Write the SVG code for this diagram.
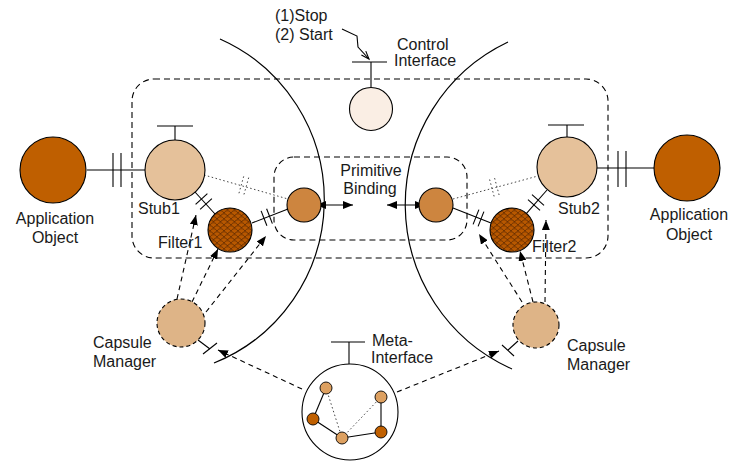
<svg xmlns="http://www.w3.org/2000/svg" width="732" height="466" viewBox="0 0 732 466">
<style>
text{font-family:"Liberation Sans",Arial,sans-serif;font-size:16px;fill:#1a1a1a}
.ln{stroke:#000;stroke-width:1.1;fill:none}
.arc{stroke:#000;stroke-width:1.2;fill:none}
.box{stroke:#000;stroke-width:1.1;fill:none;stroke-dasharray:6,4}
.da{stroke:#000;stroke-width:1.1;fill:none;stroke-dasharray:5,4;marker-end:url(#ah)}
.dot{stroke:#444;stroke-width:1;fill:none;stroke-dasharray:1.5,2.5}
.ba{stroke:#000;stroke-width:1.1;fill:none;marker-start:url(#ah2);marker-end:url(#ah)}
.nd{stroke:#000;stroke-width:1.1}
.cm{stroke:#000;stroke-width:1.1;stroke-dasharray:4,3;fill:#DEB487}
.sm{stroke:#000;stroke-width:0.9}
</style>
<defs>
<marker id="ah" markerWidth="10" markerHeight="8" refX="10" refY="4" orient="auto" markerUnits="userSpaceOnUse"><path d="M0,0 L10,4 L0,8 z" fill="#000"/></marker>
<marker id="ah2" markerWidth="10" markerHeight="8" refX="10" refY="4" orient="auto-start-reverse" markerUnits="userSpaceOnUse"><path d="M0,0 L10,4 L0,8 z" fill="#000"/></marker>
<pattern id="scales" width="7" height="6" patternUnits="userSpaceOnUse">
<rect width="7" height="6" fill="#b85800"/>
<path d="M0,3 C1.5,0 5.5,0 7,3 M-3.5,6 C-2,3 2,3 3.5,6 M3.5,6 C5,3 9,3 10.5,6 M-3.5,0 C-2,-3 2,-3 3.5,0 M3.5,0 C5,-3 9,-3 10.5,0" stroke="#4a1e00" stroke-width="0.7" fill="none"/>
</pattern>
</defs>
<rect width="732" height="466" fill="#fff"/>
<g id="background">
<path class="arc" d="M220,39 A176,176 0 0 1 214,363"/>
<path class="arc" d="M508,42 A180,180 0 0 0 512,369"/>
<rect class="box" x="132" y="79" width="476" height="179" rx="22"/>
<rect class="box" x="274" y="157" width="193" height="83" rx="20"/>
</g>
<g id="connectors">
<line class="ln" x1="87" y1="170" x2="145" y2="170"/>
<line class="ln" x1="113" y1="153" x2="113" y2="187"/>
<line class="ln" x1="121" y1="153" x2="121" y2="187"/>
<line class="ln" x1="597" y1="168" x2="654" y2="168"/>
<line class="ln" x1="618" y1="151" x2="618" y2="187"/>
<line class="ln" x1="626" y1="151" x2="626" y2="187"/>
<line class="ln" x1="195" y1="192" x2="215" y2="214"/>
<line class="ln" x1="195.6" y1="204.4" x2="207.4" y2="193.6"/>
<line class="ln" x1="200.1" y1="209.4" x2="211.9" y2="198.6"/>
<line class="ln" x1="252" y1="223" x2="288" y2="209"/>
<line class="ln" x1="261.1" y1="210.9" x2="266.9" y2="225.7"/>
<line class="ln" x1="266.6" y1="208.8" x2="272.4" y2="223.6"/>
<line class="ln" x1="547" y1="190" x2="526.5" y2="213.4"/>
<line class="ln" x1="532" y1="194.7" x2="544" y2="205.3"/>
<line class="ln" x1="528" y1="199.7" x2="540" y2="210.3"/>
<line class="ln" x1="453" y1="208" x2="491" y2="223"/>
<line class="ln" x1="478.9" y1="209.6" x2="473.1" y2="224.4"/>
<line class="ln" x1="483.9" y1="211.6" x2="478.1" y2="226.4"/>
<line class="dot" x1="204" y1="175" x2="288" y2="199"/>
<line class="dot" x1="243.7" y1="176.4" x2="238.3" y2="195.6"/>
<line class="dot" x1="248.7" y1="177.6" x2="243.3" y2="196.8"/>
<line class="dot" x1="453" y1="199" x2="538" y2="176"/>
<line class="dot" x1="489.6" y1="179.5" x2="494.4" y2="197.5"/>
<line class="dot" x1="494.6" y1="178.1" x2="499.4" y2="196.1"/>
<line class="ba" x1="316" y1="205" x2="353" y2="205"/>
<line class="ba" x1="387" y1="205" x2="425" y2="205"/>
<line class="ln" x1="175" y1="140" x2="175" y2="126"/>
<line class="ln" x1="157" y1="126" x2="193" y2="126"/>
<line class="ln" x1="567" y1="137" x2="567" y2="125"/>
<line class="ln" x1="548" y1="125" x2="584" y2="125"/>
<line class="ln" x1="371" y1="87" x2="371" y2="62"/>
<line class="ln" x1="352" y1="62" x2="387" y2="62"/>
<path class="ln" d="M342,29 L357,36 L358,47 L369,59" stroke-width="0.9"/>
<path class="ln" d="M361.4,55.1 L369,59 L365.8,51.1" stroke-width="0.9"/>
<line class="ln" x1="349" y1="364" x2="349" y2="342"/>
<line class="ln" x1="331" y1="342" x2="365" y2="342"/>
<line class="ln" x1="198" y1="340" x2="210" y2="349"/>
<line class="ln" x1="203" y1="354" x2="217" y2="343"/>
<line class="ln" x1="518" y1="341" x2="508" y2="350"/>
<line class="ln" x1="502" y1="345" x2="514" y2="356"/>
<path class="da" d="M177,299 L196,215"/>
<path class="da" d="M192,302 L218,249"/>
<path class="da" d="M206,312 L266,236"/>
<path class="da" d="M522,302 L479,234"/>
<path class="da" d="M533,302 L520,251"/>
<path class="da" d="M545,302 L546,220"/>
<path class="da" d="M302,389 L218,350"/>
<path class="da" d="M397,392 L499,351"/>
</g>
<g id="app1"><circle class="nd" cx="53" cy="170" r="33" fill="#BF5F00"/>
<text x="55" y="224" text-anchor="middle">Application</text><text x="55" y="243" text-anchor="middle">Object</text></g>
<g id="app2"><circle class="nd" cx="687" cy="168" r="33" fill="#BF5F00"/>
<text x="689" y="220" text-anchor="middle">Application</text><text x="689" y="240" text-anchor="middle">Object</text></g>
<g id="stub1"><circle class="nd" cx="175" cy="170" r="30" fill="#E5C19A"/><text x="138" y="214">Stub1</text></g>
<g id="stub2"><circle class="nd" cx="567" cy="167" r="30" fill="#E5C19A"/><text x="558" y="214">Stub2</text></g>
<g id="filter1"><circle class="nd" cx="230" cy="230" r="22" fill="url(#scales)"/><text x="158" y="248">Filter1</text></g>
<g id="filter2"><circle class="nd" cx="512" cy="230" r="22" fill="url(#scales)"/><text x="532" y="252">Filter2</text></g>
<g id="prim1"><circle class="nd" cx="304" cy="205" r="17" fill="#CD853F"/></g>
<g id="prim2"><circle class="nd" cx="436" cy="205" r="17" fill="#CD853F"/></g>
<g id="primitive-binding"><text x="371" y="175.5" text-anchor="middle">Primitive</text><text x="370" y="193.5" text-anchor="middle">Binding</text></g>
<g id="control"><circle class="nd" cx="371" cy="109" r="21.5" fill="#FAEEE4"/>
<text x="275" y="21">(1)Stop</text><text x="275" y="40">(2) Start</text>
<text x="397" y="50">Control</text><text x="394" y="66">Interface</text></g>
<g id="capsule1"><circle class="cm" cx="181" cy="323" r="24"/><text x="93" y="348">Capsule</text><text x="93" y="367">Manager</text></g>
<g id="capsule2"><circle class="cm" cx="536" cy="325" r="23"/><text x="567" y="351">Capsule</text><text x="567" y="370">Manager</text></g>
<g id="meta"><circle class="nd" cx="350" cy="412" r="48" fill="#fff"/>
<line class="ln" x1="326" y1="388" x2="313" y2="419"/>
<line class="ln" x1="313" y1="419" x2="342" y2="438"/>
<line class="ln" x1="342" y1="438" x2="381" y2="432"/>
<line class="ln" x1="381" y1="432" x2="381" y2="397"/>
<line class="dot" x1="326" y1="388" x2="342" y2="438"/>
<line class="dot" x1="342" y1="438" x2="381" y2="397"/>
<circle class="sm" cx="326" cy="388" r="6" fill="#DDA060"/>
<circle class="sm" cx="313" cy="419" r="6" fill="#C06000"/>
<circle class="sm" cx="342" cy="438" r="6" fill="#DDA060"/>
<circle class="sm" cx="381" cy="397" r="6" fill="#DDA060"/>
<circle class="sm" cx="381" cy="432" r="6" fill="#C06000"/>
<text x="372" y="346">Meta-</text><text x="371" y="363">Interface</text></g>
</svg>
